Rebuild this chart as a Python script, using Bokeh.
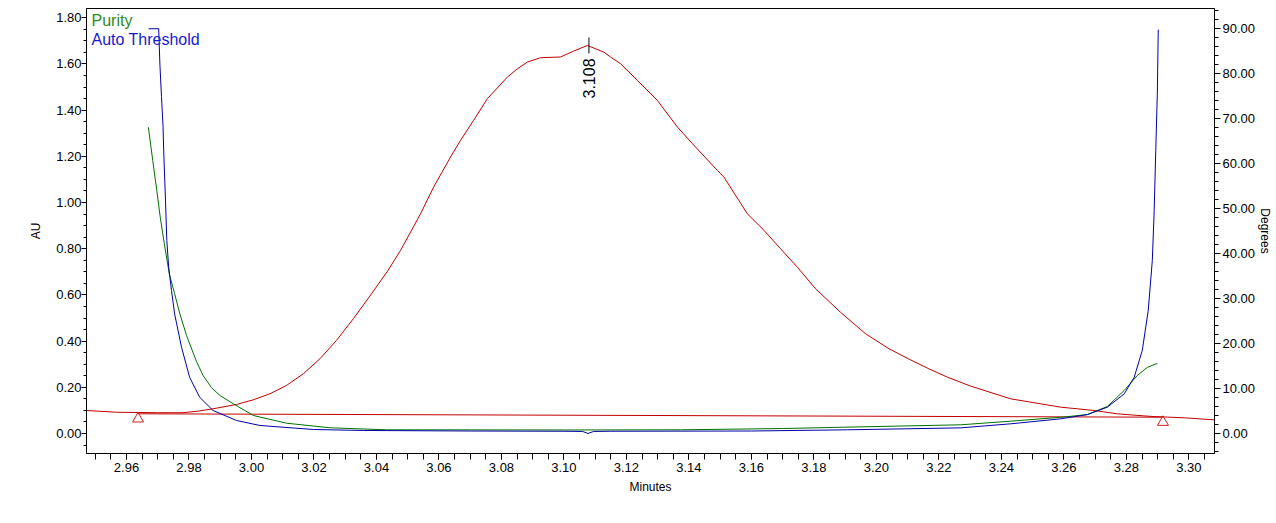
import math
from bokeh.plotting import figure
from bokeh.models import (Range1d, LinearAxis, SingleIntervalTicker,
                          PrintfTickFormatter, Label)
from bokeh.core.properties import value
from bokeh.embed import file_html
from bokeh.resources import INLINE

# ---------------- data ----------------
# chromatogram (AU, left axis)
t_red = [2.9472, 2.9568, 2.9700, 2.9781, 2.9830, 2.9877, 2.9952, 3.0006, 3.0059,
         3.0112, 3.0166, 3.0219, 3.0272, 3.0326, 3.0379, 3.0434, 3.0477, 3.0541,
         3.0583, 3.0637, 3.0669, 3.0711, 3.0755, 3.0819, 3.0851, 3.0883, 3.0925,
         3.0989, 3.1030, 3.1075, 3.1128, 3.1149, 3.1181, 3.1235, 3.1299, 3.1363,
         3.1411, 3.1491, 3.1512, 3.1587, 3.1640, 3.1693, 3.1747, 3.1805, 3.1885,
         3.1965, 3.2040, 3.2110, 3.2168, 3.2227, 3.2302, 3.2430, 3.2590, 3.2697,
         3.2772, 3.2878, 3.2985, 3.3082]
au_red = [0.0996, 0.092, 0.090, 0.090, 0.097, 0.107, 0.1256, 0.146, 0.172,
          0.208, 0.2585, 0.3235, 0.403, 0.497, 0.595, 0.700, 0.7925, 0.951,
          1.067, 1.197, 1.269, 1.356, 1.450, 1.543, 1.579, 1.608, 1.627,
          1.630, 1.655, 1.680, 1.651, 1.630, 1.601, 1.529, 1.442, 1.327,
          1.255, 1.139, 1.110, 0.951, 0.880, 0.800, 0.720, 0.627, 0.525,
          0.432, 0.367, 0.318, 0.280, 0.244, 0.205, 0.150, 0.114, 0.0996,
          0.085, 0.074, 0.068, 0.059]

# integration baseline and its start / end markers
base_t = [2.9637, 3.2917]
base_au = [0.0853, 0.0706]
mark_au = [0.0636, 0.049]

# peak annotation
peak_t = [3.108]
peak_au = [1.680]
peak_text = ["3.108"]

# purity curve (degrees, right axis)
t_pur = [2.9670, 2.9684, 2.9697, 2.9708, 2.9721, 2.9737, 2.9754, 2.9770, 2.9792,
         2.9824, 2.9845, 2.9872, 2.9899, 2.9942, 3.0006, 3.0112, 3.0251, 3.0432,
         3.0700, 3.1000, 3.1373, 3.1700, 3.1896, 3.2270, 3.2430, 3.2590, 3.2675,
         3.2739, 3.2793, 3.2835, 3.2867, 3.2899]
deg_pur = [68.1, 60.7, 54.0, 48.1, 42.2, 35.5, 31.1, 26.8, 21.8,
           16.0, 12.9, 10.2, 8.45, 6.6, 4.0, 2.29, 1.27, 0.82,
           0.80, 0.78, 0.82, 1.10, 1.40, 1.93, 2.74, 3.60, 4.20,
           6.00, 9.56, 12.9, 14.7, 15.6]

# auto threshold curve (degrees, right axis)
t_thr = [2.9671, 2.9703, 2.9707, 2.9712, 2.9717, 2.9719, 2.9725, 2.9729, 2.9735,
         2.9744, 2.9754, 2.9776, 2.9802, 2.9834, 2.9877, 2.9952, 3.0027, 3.0198,
         3.0358, 3.0700, 3.1000, 3.1060, 3.1077, 3.1095, 3.1150, 3.1600, 3.1907,
         3.2270, 3.2430, 3.2590, 3.2675, 3.2739, 3.2793, 3.2825, 3.2851, 3.2870,
         3.2883, 3.2889, 3.2894, 3.2899, 3.2902]
deg_thr = [90.0, 90.0, 81.9, 74.9, 68.2, 63.0, 51.5, 42.9, 37.0,
           31.8, 26.6, 19.2, 12.5, 8.07, 5.11, 2.89, 1.78, 0.89,
           0.67, 0.55, 0.50, 0.45, 0.0, 0.45, 0.50, 0.55, 0.82,
           1.25, 2.15, 3.26, 4.20, 5.85, 8.80, 12.5, 18.5, 27.4,
           38.5, 49.6, 62.9, 75.5, 89.8]

legend_names = ["Purity", "Auto Threshold"]

# ---------------- figure ----------------
FONT = "Liberation Sans"
RED = "#C00000"
GREEN = "#007000"
BLUE = "#0000A8"

p = figure(width=1276, height=508,
           x_range=Range1d(2.9472, 3.3082), y_range=Range1d(-0.0866, 1.840),
           output_backend="svg", toolbar_location=None,
           min_border_left=86, min_border_right=62,
           min_border_top=8, min_border_bottom=55)
p.extra_y_ranges = {"deg": Range1d(-4.45, 94.5)}
p.grid.visible = False
p.outline_line_color = "black"
p.outline_line_width = 1
p.outline_line_alpha = 1.0
p.background_fill_color = "white"
p.border_fill_color = "white"

def style_axis(ax, label, major_out, minor_out):
    ax.axis_label = label
    ax.axis_label_text_font = FONT
    ax.axis_label_text_font_size = "12px"
    ax.axis_label_text_font_style = "normal"
    ax.axis_label_text_color = "black"
    ax.major_label_text_font = FONT
    ax.major_label_text_font_size = "13px"
    ax.major_label_text_color = "black"
    ax.axis_line_color = "black"
    ax.major_tick_line_color = "black"
    ax.minor_tick_line_color = "black"
    ax.major_tick_in = 0
    ax.major_tick_out = major_out
    ax.minor_tick_in = 0
    ax.minor_tick_out = minor_out
    ax.major_label_standoff = 2

xa = p.xaxis[0]
xa.ticker = SingleIntervalTicker(interval=0.02, num_minor_ticks=4)
xa.formatter = PrintfTickFormatter(format="%.2f")
style_axis(xa, "Minutes", 6, 6)
xa.major_label_standoff = 3
xa.axis_label_standoff = 5

ya = p.yaxis[0]
ya.ticker = SingleIntervalTicker(interval=0.2, num_minor_ticks=4)
ya.formatter = PrintfTickFormatter(format="%.2f")
style_axis(ya, "AU", 5, 3)
ya.major_label_standoff = 0
ya.axis_label_standoff = 10

ra = LinearAxis(y_range_name="deg",
                ticker=SingleIntervalTicker(interval=10, num_minor_ticks=5),
                formatter=PrintfTickFormatter(format="%.2f"))
style_axis(ra, "Degrees", 6, 4)
ra.axis_label_standoff = 0
p.add_layout(ra, "right")

# chromatogram + baseline
p.line(t_red, au_red, line_color=RED, line_width=1)
p.line(base_t, base_au, line_color=RED, line_width=1)
p.scatter(base_t, mark_au, marker="triangle", size=11,
          fill_color=None, line_color="#D02020", line_width=1)

# purity / threshold
p.line(t_pur, deg_pur, y_range_name="deg", line_color=GREEN, line_width=1)
p.line(t_thr, deg_thr, y_range_name="deg", line_color=BLUE, line_width=1)

# peak annotation
p.scatter(peak_t, peak_au, marker="dash", angle=math.pi / 2, size=16,
          line_color="black", line_width=1)
p.text(x=peak_t, y=peak_au, text=peak_text, angle=math.pi / 2,
       text_align="right", text_baseline="middle", y_offset=13,
       text_font=value(FONT), text_font_size="16px", text_color="black")

# legend texts
p.add_layout(Label(x=5, y=442, x_units="screen", y_units="screen",
                   text=legend_names[0], text_color="#2E8B22",
                   text_font=FONT, text_font_size="16px", text_baseline="top"))
p.add_layout(Label(x=5, y=423, x_units="screen", y_units="screen",
                   text=legend_names[1], text_color="#1A1ACC",
                   text_font=FONT, text_font_size="16px", text_baseline="top"))

open("out.html", "w").write(file_html(p, INLINE))
